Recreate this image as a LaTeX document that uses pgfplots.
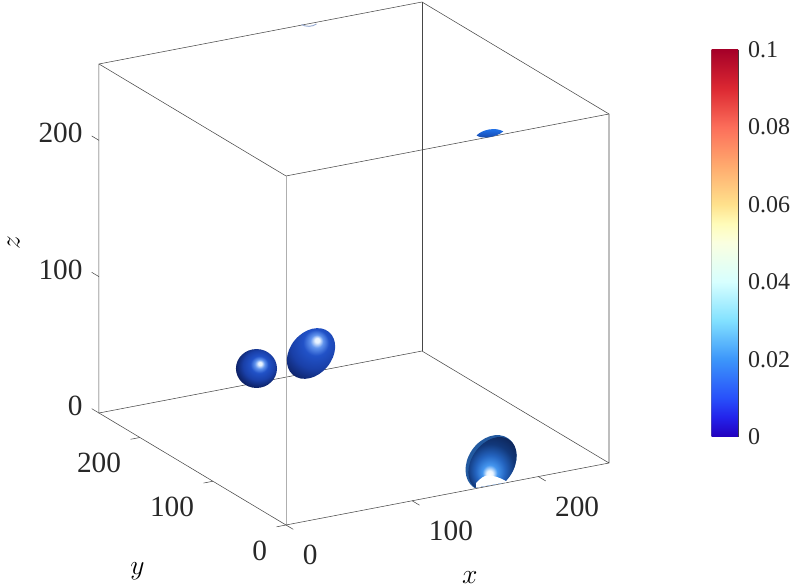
\documentclass[border=0pt]{standalone}
\usepackage{fontspec}
\setmainfont{Liberation Serif}
\usepackage{pgfplots}
\pgfplotsset{compat=1.18}

% colour bar stops
\definecolor{c0}{RGB}{35,0,190}
\definecolor{c05}{RGB}{35,35,235}
\definecolor{c1}{RGB}{40,80,250}
\definecolor{c2}{RGB}{60,150,250}
\definecolor{c3}{RGB}{130,225,255}
\definecolor{c4}{RGB}{215,255,255}
\definecolor{c5}{RGB}{250,255,225}
\definecolor{c55}{RGB}{255,252,185}
\definecolor{c6}{RGB}{255,225,140}
\definecolor{c7}{RGB}{255,170,110}
\definecolor{c8}{RGB}{252,110,90}
\definecolor{c9}{RGB}{220,40,50}
\definecolor{c10}{RGB}{165,0,40}
\definecolor{edge}{RGB}{70,70,70}
\pgfdeclareverticalshading{cbar}{100bp}{color(0bp)=(c0); color(25bp)=(c0); color(27.5bp)=(c05);
  color(30bp)=(c1); color(35bp)=(c2); color(40bp)=(c3); color(45bp)=(c4); color(50bp)=(c5);
  color(52.5bp)=(c55); color(55bp)=(c6); color(60bp)=(c7); color(65bp)=(c8); color(70bp)=(c9);
  color(75bp)=(c10); color(100bp)=(c10)}

% blob shadings
\definecolor{hl}{RGB}{235,245,255}
\definecolor{rim}{RGB}{35,90,160}
\pgfdeclareradialshading{blobA}{\pgfpoint{4.4bp}{6.6bp}}{color(0bp)=(hl); color(2bp)=(hl);
  rgb(6bp)=(.38,.58,.93); rgb(11bp)=(.13,.32,.78); rgb(19bp)=(.10,.25,.66);
  rgb(26bp)=(.06,.15,.44); rgb(33bp)=(.03,.08,.27); rgb(50bp)=(.02,.05,.2)}
\pgfdeclareradialshading{blobB}{\pgfpoint{6bp}{11bp}}{color(0bp)=(hl); color(2bp)=(hl);
  rgb(6bp)=(.38,.58,.93); rgb(12bp)=(.13,.32,.78); rgb(22bp)=(.10,.25,.66);
  rgb(31bp)=(.06,.15,.44); rgb(37bp)=(.03,.08,.27); rgb(50bp)=(.02,.05,.2)}
\pgfdeclareradialshading{blobC}{\pgfpoint{-3bp}{-12bp}}{color(0bp)=(white); color(3bp)=(hl);
  rgb(7bp)=(.27,.59,.94); rgb(14bp)=(.14,.39,.75); rgb(22bp)=(.07,.22,.48);
  rgb(32bp)=(.05,.13,.32); rgb(40bp)=(.05,.11,.27); rgb(50bp)=(.05,.1,.25)}
\pgfdeclareverticalshading{blobD}{100bp}{rgb(0bp)=(.08,.25,.62); rgb(25bp)=(.08,.25,.62);
  rgb(60bp)=(.12,.42,.88); rgb(75bp)=(.14,.47,.93); rgb(100bp)=(.14,.47,.93)}

% marks: picture pixels are .75pt, y upward; ellipses given by their two axes
\pgfdeclareplotmark{blobA}{\begin{pgfscope}
  \pgfpathellipse{\pgfpointorigin}{\pgfpoint{15.4pt}{0pt}}{\pgfpoint{0pt}{14.6pt}}
  \pgfshadepath{blobA}{0}\pgfusepath{discard}\end{pgfscope}}
\pgfdeclareplotmark{blobB}{\begin{pgfscope}
  \pgfpathellipse{\pgfpointorigin}{\pgfpoint{13.5pt}{16.09pt}}{\pgfpoint{-12.07pt}{10.12pt}}
  \pgfshadepath{blobB}{0}\pgfusepath{discard}\end{pgfscope}}
\pgfdeclareplotmark{blobC}{\begin{pgfscope}
  \pgfpathmoveto{\pgfpoint{-30pt}{-21.75pt}}
  \pgfpathlineto{\pgfpoint{30pt}{-11.25pt}}
  \pgfpathlineto{\pgfpoint{30pt}{30pt}}
  \pgfpathlineto{\pgfpoint{-30pt}{30pt}}
  \pgfpathclose
  \pgfusepath{clip}
  \begin{pgfscope}
  \pgfsetfillcolor{rim}
  \pgfpathellipse{\pgfpointorigin}{\pgfpoint{12.9pt}{18.43pt}}{\pgfpoint{-14.13pt}{9.89pt}}
  \pgfusepath{fill}
  \end{pgfscope}
  \begin{pgfscope}
  \pgfpathellipse{\pgfpoint{1.1pt}{-.75pt}}{\pgfpoint{12.69pt}{18.1pt}}{\pgfpoint{-12.9pt}{9.04pt}}
  \pgfshadepath{blobC}{0}\pgfusepath{discard}
  \end{pgfscope}
  \pgfsetfillcolor{white}
  \pgfpathmoveto{\pgfpoint{-11.25pt}{-15pt}}
  \pgfpathcurveto{\pgfpoint{-7.5pt}{-11.25pt}}{\pgfpoint{-5.25pt}{-9.4pt}}{\pgfpoint{-2.25pt}{-9.4pt}}
  \pgfpathcurveto{\pgfpoint{1.5pt}{-9.4pt}}{\pgfpoint{6pt}{-10.5pt}}{\pgfpoint{11.6pt}{-13.9pt}}
  \pgfpathlineto{\pgfpoint{11.6pt}{-22.5pt}}
  \pgfpathlineto{\pgfpoint{-11.25pt}{-22.5pt}}
  \pgfpathclose
  \pgfusepath{fill}
  \end{pgfscope}}
\pgfdeclareplotmark{blobD}{\begin{pgfscope}
  \pgfpathmoveto{\pgfpoint{-10pt}{-1.5pt}}
  \pgfpathcurveto{\pgfpoint{-6pt}{3pt}}{\pgfpoint{4.5pt}{5pt}}{\pgfpoint{10pt}{1.5pt}}
  \pgfpathcurveto{\pgfpoint{4.5pt}{-3pt}}{\pgfpoint{-6pt}{-4.5pt}}{\pgfpoint{-10pt}{-1.5pt}}
  \pgfpathclose
  \pgfshadepath{blobD}{0}\pgfusepath{discard}\end{pgfscope}}
\pgfdeclareplotmark{blobE}{\begin{pgfscope}
  \pgfsetstrokecolor{rgb,255:red,150;green,170;blue,210}
  \pgfsetlinewidth{.7pt}
  \pgfpathmoveto{\pgfpoint{-5.6pt}{.4pt}}
  \pgfpathcurveto{\pgfpoint{-2.2pt}{-1.5pt}}{\pgfpoint{2.2pt}{-1.5pt}}{\pgfpoint{5.6pt}{.75pt}}
  \pgfusepath{stroke}\end{pgfscope}}

\begin{document}
\begin{tikzpicture}
\path[use as bounding box] (0,0) rectangle (594.75pt,441pt);
\begin{axis}[
  at={(214.5pt,47.25pt)}, anchor=origin,
  x={(0.9463pt,0.1816pt)}, y={(-0.5479pt,0.3281pt)}, z={(0pt,1.0225pt)},
  xmin=0, xmax=256, ymin=0, ymax=256, zmin=0, zmax=256,
  clip=false,
  unbounded coords=jump,
  axis lines=box,
  axis line style={draw=none},
  xtick={0,100,200}, ytick={0,100,200}, ztick={0,100,200},
  tick align=outside,
  major tick length=6.75pt,
  tick style={draw=none},
  /pgf/number format/assume math mode=true,
  tick label style={font=\fontsize{22}{24}\selectfont,color={rgb,255:red,40;green,40;blue,40}},
  xticklabel style={anchor=west,xshift=3.25pt,yshift=-19.2pt},
  yticklabel style={anchor=east,xshift=-4pt,yshift=-18pt},
  zticklabel style={anchor=east,xshift=-3pt,yshift=1.9pt},
  xlabel={$x$}, ylabel={$y$}, zlabel={$z$},
  every axis x label/.style={at={(rel axis cs:0.56,0,0)},anchor=center,inner sep=0pt,xshift=2.25pt,yshift=-65.5pt,font=\fontsize{22}{24}\selectfont},
  every axis y label/.style={at={(rel axis cs:0,0.8,0)},anchor=center,inner sep=0pt,xshift=.75pt,yshift=-102pt,font=\fontsize{22}{24}\selectfont},
  every axis z label/.style={at={(rel axis cs:0,1,0.5)},anchor=center,inner sep=0pt,xshift=-64pt,yshift=-3pt,rotate=90,font=\fontsize{22}{24}\selectfont},
]
% back and side edges of the box
\addplot3[line width=.4pt,color=edge,forget plot] coordinates {
  (256,0,0) (256,256,0) (0,256,0) (0,256,256) (256,256,256) (256,0,256) (256,0,0)};
\addplot3[line width=.4pt,color=edge,forget plot] coordinates {(256,256,0) (256,256,256)};
\addplot3[line width=.4pt,color=edge,forget plot] coordinates {(0,256,256) (0,0,256)};
\addplot3[line width=.4pt,color=edge,forget plot] coordinates {(0,256,0) (0,0,0)};
% tick marks
\addplot3[line width=.4pt,color=edge,forget plot] coordinates {
  (0,0,0) (0,-10,0) (nan,nan,nan) (100,0,0) (100,-10,0) (nan,nan,nan) (200,0,0) (200,-10,0) (nan,nan,nan)
  (0,0,0) (-7.4,0,0) (nan,nan,nan) (0,100,0) (-7.4,100,0) (nan,nan,nan) (0,200,0) (-7.4,200,0) (nan,nan,nan)
  (0,256,0) (0,266,0) (nan,nan,nan) (0,256,100) (0,266,100) (nan,nan,nan) (0,256,200) (0,266,200)};
% blob centres
\addplot3[only marks,mark=blobE,forget plot] coordinates {(165.1,253.7,256)};
\addplot3[only marks,mark=blobA,forget plot] coordinates {(70.8,162.7,50)};
\addplot3[only marks,mark=blobB,forget plot] coordinates {(118.6,170.6,50)};
\addplot3[only marks,mark=blobC,forget plot] coordinates {(168.3,10,12.4)};
\addplot3[only marks,mark=blobD,forget plot] coordinates {(170.5,15.3,252)};
% front edges
\addplot3[line width=.4pt,color={rgb,255:red,175;green,175;blue,175},forget plot] coordinates {(0,0,0) (0,0,256)};
\addplot3[line width=.4pt,color=edge,forget plot] coordinates {(0,0,0) (256,0,0)};
\addplot3[line width=.4pt,color=edge,forget plot] coordinates {(0,0,256) (256,0,256)};
\end{axis}
\begin{axis}[
  at={(533.8pt,113.5pt)}, anchor=south west,
  scale only axis, width=19.7pt, height=290.25pt,
  xmin=0, xmax=1, ymin=0, ymax=0.1,
  axis y line*=right, axis x line=none,
  axis line style={color={rgb,255:red,60;green,60;blue,60},line width=.4pt},
  ytick={0,0.02,0.04,0.06,0.08,0.1},
  yticklabels={0,0.02,0.04,0.06,0.08,0.1},
  tick align=inside, major tick length=2.6pt,
  tick style={color={rgb,255:red,60;green,60;blue,60},line width=.4pt},
  yticklabel style={font=\fontsize{18}{20}\selectfont,color={rgb,255:red,40;green,40;blue,40},anchor=west,xshift=4pt},
]
\addplot[shading=cbar,draw=none] coordinates {(0,0) (1,0) (1,0.1) (0,0.1)} -- cycle;
\addplot[color={rgb,255:red,130;green,130;blue,130},line width=.4pt] coordinates {(0,0) (0,0.1)};
\end{axis}
\end{tikzpicture}
\end{document}
